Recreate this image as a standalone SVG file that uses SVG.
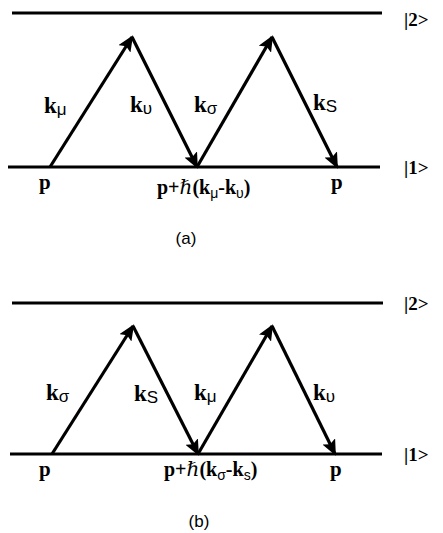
<svg xmlns="http://www.w3.org/2000/svg" width="443" height="533" viewBox="0 0 443 533">
<style>
.lvl{stroke:#000;stroke-width:3.2;fill:none}
.arr{stroke:#000;stroke-width:3.2;fill:none;marker-end:url(#ah)}
.t{font-family:"Liberation Serif","DejaVu Serif",serif;font-weight:bold;fill:#000}
.k{font-size:23px}
.sub{font-family:"Liberation Sans","DejaVu Sans",sans-serif;font-weight:normal;font-size:17px}
.st{font-size:19px}
.lb{font-size:21px}
.ms{font-family:"Liberation Sans","DejaVu Sans",sans-serif;font-weight:normal;font-size:14px}
.hb{font-family:"DejaVu Serif",serif;font-weight:normal}
.cap{font-family:"Liberation Sans",Arial,sans-serif;font-size:17px;fill:#000}
</style>
<defs>
<marker id="ah" markerUnits="userSpaceOnUse" markerWidth="18" markerHeight="14" viewBox="0 0 18 14" refX="14" refY="7" orient="auto">
<path d="M0,0 L16,7 L0,14 L3,7 Z" fill="#000"/>
</marker>
</defs>
<g id="levels-a">
<line class="lvl" x1="12" y1="13" x2="382" y2="13"/>
<line class="lvl" x1="8" y1="167" x2="380" y2="167"/>
</g>
<g id="states-a" class="t st">
<text x="404" y="26">|2&gt;</text>
<text x="404" y="174">|1&gt;</text>
</g>
<g id="connectors-a">
<line class="arr" x1="50" y1="167" x2="132" y2="37"/>
<line class="arr" x1="132" y1="37" x2="197" y2="167"/>
<line class="arr" x1="197" y1="167" x2="272" y2="37"/>
<line class="arr" x1="272" y1="37" x2="337" y2="167"/>
</g>
<g id="labels-a" class="t k">
<text x="44" y="113">k<tspan class="sub" dy="2">μ</tspan></text>
<text x="130" y="112">k<tspan class="sub" dy="2">υ</tspan></text>
<text x="194" y="112">k<tspan class="sub" dy="2">σ</tspan></text>
<text x="313" y="110">k<tspan class="sub" dy="2">S</tspan></text>
</g>
<g id="momenta-a" class="t lb">
<text x="39" y="189">p</text>
<text x="157" y="194" font-size="20">p+<tspan class="hb">ℏ</tspan>(k<tspan class="ms" dy="4">μ</tspan><tspan dy="-4">-k</tspan><tspan class="ms" dy="4">υ</tspan><tspan dy="-4">)</tspan></text>
<text x="331" y="189">p</text>
</g>
<text class="cap" x="186" y="244" text-anchor="middle">(a)</text>

<g id="levels-b">
<line class="lvl" x1="12" y1="303" x2="383" y2="303"/>
<line class="lvl" x1="10" y1="454" x2="382" y2="454"/>
</g>
<g id="states-b" class="t st">
<text x="404" y="310">|2&gt;</text>
<text x="404" y="461">|1&gt;</text>
</g>
<g id="connectors-b">
<line class="arr" x1="52" y1="454" x2="133" y2="326"/>
<line class="arr" x1="133" y1="326" x2="198" y2="454"/>
<line class="arr" x1="198" y1="454" x2="272" y2="326"/>
<line class="arr" x1="272" y1="326" x2="335" y2="454"/>
</g>
<g id="labels-b" class="t k">
<text x="46" y="400">k<tspan class="sub" dy="2">σ</tspan></text>
<text x="134" y="401">k<tspan class="sub" dy="2">S</tspan></text>
<text x="194" y="400">k<tspan class="sub" dy="2">μ</tspan></text>
<text x="313" y="400">k<tspan class="sub" dy="2">υ</tspan></text>
</g>
<g id="momenta-b" class="t lb">
<text x="39" y="476">p</text>
<text x="164" y="476" font-size="20">p+<tspan class="hb">ℏ</tspan>(k<tspan class="ms" dy="4">σ</tspan><tspan dy="-4">-k</tspan><tspan class="ms" dy="4">s</tspan><tspan dy="-4">)</tspan></text>
<text x="330" y="476">p</text>
</g>
<text class="cap" x="199" y="527" text-anchor="middle">(b)</text>
</svg>
